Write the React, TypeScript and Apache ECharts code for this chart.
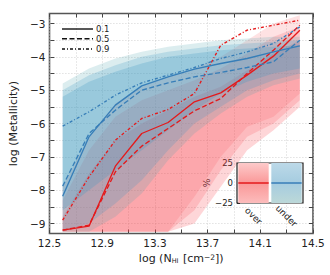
import React, { useEffect, useRef } from 'react';
import * as echarts from 'echarts';

const FONT = 'DejaVu Sans';

// log N_HI bin centres
const nhi = [12.6, 12.8, 13.0, 13.2, 13.4, 13.6, 13.8, 14.0, 14.2, 14.4];

// quantile lines (red = over, blue = under)
const redQ10 = [-9.2, -9.08, -7.28, -6.3, -5.97, -5.35, -5.08, -4.55, -3.98, -3.2];
const redQ50 = [-9.2, -9.05, -7.45, -6.68, -6.15, -5.62, -5.25, -4.5, -3.8, -3.05];
const redQ90 = [-8.9, -7.6, -6.5, -5.85, -5.58, -5.1, -3.65, -3.2, -3.05, -2.9];
const blueQ10 = [-8.18, -6.4, -5.45, -4.87, -4.6, -4.37, -4.2, -4.05, -3.85, -3.67];
const blueQ50 = [-7.88, -6.3, -5.6, -5.0, -4.78, -4.6, -4.47, -4.32, -4.15, -3.5];
const blueQ90 = [-6.08, -5.65, -5.15, -4.78, -4.55, -4.32, -4.05, -3.85, -3.6, -3.1];

// shaded distributions (nested envelopes)
const redOuterHi = [-7.9, -6.4, -5.4, -4.9, -4.6, -4.35, -4.0, -3.5, -3.0, -2.75];
const redOuterLo = [-9.25, -9.25, -9.25, -9.25, -9.25, -8.2, -7.0, -6.1, -5.8, -5.1];
const redMidHi = [-8.3, -6.8, -5.8, -5.3, -5.0, -4.7, -4.35, -3.9, -3.4, -3.1];
const redMidLo = [-9.25, -9.25, -9.25, -9.25, -9.25, -8.6, -7.4, -6.4, -6.0, -5.3];
const redInHi = [-8.8, -7.5, -6.5, -6.0, -5.6, -5.2, -4.9, -4.4, -3.9, -3.5];
const redInLo = [-9.25, -9.25, -9.25, -9.25, -9.25, -9.0, -7.9, -6.8, -6.2, -5.5];

const blueOuterHi = [-4.8, -4.35, -4.05, -3.85, -3.7, -3.6, -3.5, -3.45, -3.4, -3.4];
const blueOuterLo = [-9.25, -9.25, -8.8, -8.1, -7.1, -6.3, -5.7, -5.2, -4.85, -4.65];
const blueMidHi = [-5.0, -4.55, -4.25, -4.0, -3.85, -3.75, -3.65, -3.6, -3.55, -3.5];
const blueMidLo = [-9.25, -9.0, -8.4, -7.7, -6.8, -6.0, -5.5, -5.0, -4.7, -4.5];
const blueInHi = [-5.2, -4.75, -4.45, -4.2, -4.0, -3.9, -3.8, -3.75, -3.7, -3.65];
const blueInLo = [-8.6, -8.0, -7.4, -6.8, -6.2, -5.6, -5.1, -4.75, -4.5, -4.35];

const quantileLabels = ['0.1', '0.5', '0.9'];
const xTickLabels = ['12.5', '12.9', '13.3', '13.7', '14.1', '14.5'];
const yTickLabels = ['\u22129', '\u22128', '\u22127', '\u22126', '\u22125', '\u22124', '\u22123'];

// inset
const insetCategories = ['over', 'under'];
const insetHigh = [25, 25];
const insetLow = [-25, -25];
const insetMedian = [0, 0];

const RED = '#e41a1c';
const BLUE = '#377eb8';
const RED_FILL = 'rgb(250,60,70)';
const BLUE_FILL = 'rgb(60,150,195)';
const TEAL_FILL = 'rgb(80,165,175)';

const dashStyles: any[] = ['solid', [5, 2.5], [3, 2, 1, 2]];

function band(lo: number[], hi: number[], color: string, opacity: number, z: number) {
  return {
    type: 'custom', coordinateSystem: 'cartesian2d', xAxisIndex: 0, yAxisIndex: 0,
    silent: true, z, clip: true,
    data: [0],
    renderItem: (_p: any, api: any) => {
      const top = nhi.map((x, i) => api.coord([x, hi[i]]));
      const bot = nhi.map((x, i) => api.coord([x, lo[i]])).reverse();
      return {
        type: 'polygon',
        shape: { points: top.concat(bot) },
        style: { fill: color, opacity },
      };
    },
  };
}

function qline(name: string, vals: number[], color: string, k: number) {
  return {
    type: 'line', name, xAxisIndex: 0, yAxisIndex: 0,
    data: nhi.map((x, i) => [x, vals[i]]), symbol: 'none',
    lineStyle: { color, width: 1.35, type: dashStyles[k] }, z: 10,
  };
}

const tickStyle = { show: true, inside: true, length: 4, lineStyle: { color: '#444', width: 1 } };
const gridLine = { show: true, lineStyle: { color: '#c8c8c8', type: [1, 2], width: 0.8 } };

const option: any = {
  animation: false,
  textStyle: { fontFamily: FONT },
  grid: [
    { left: 49.5, top: 13.5, width: 263.5, height: 220, show: true, borderColor: '#555', borderWidth: 1.6, backgroundColor: 'transparent', containLabel: false },
    { left: 49.5, top: 23.5, width: 263.5, height: 200, containLabel: false },
    { left: 237, top: 163, width: 66, height: 40, show: true, borderColor: '#222', borderWidth: 1.2, backgroundColor: '#fff', containLabel: false, z: 20 },
  ],
  xAxis: [
    {
      gridIndex: 0, type: 'value', min: 12.5, max: 14.5, interval: 0.2,
      axisLine: { show: false }, axisTick: tickStyle, splitLine: gridLine,
      axisLabel: {
        fontSize: 10.5, color: '#222', margin: 4, fontFamily: FONT,
        formatter: (v: number) => {
          const k = Math.round((v - 12.5) / 0.2);
          return k % 2 === 0 ? xTickLabels[k / 2] : '';
        },
      },
      name: '{a|log (N}{s|HI}{a| [cm}{p|\u22122}{a|])}',
      nameLocation: 'middle', nameGap: 17,
      nameTextStyle: {
        rich: {
          a: { fontSize: 11, fontFamily: FONT, color: '#222' },
          s: { fontSize: 6.5, fontFamily: FONT, color: '#222', verticalAlign: 'bottom', padding: [0, 1, 0, 0] },
          p: { fontSize: 7.5, fontFamily: FONT, color: '#222', verticalAlign: 'top' },
        },
      },
    },
    {
      gridIndex: 0, type: 'value', position: 'top', min: 12.5, max: 14.5, interval: 0.2,
      axisLine: { show: false }, axisTick: tickStyle, axisLabel: { show: false }, splitLine: { show: false },
    },
    { gridIndex: 1, type: 'value', min: 0, max: 1, show: false },
    {
      gridIndex: 2, type: 'category', data: insetCategories,
      axisLine: { show: false }, axisTick: { show: false },
      axisLabel: { rotate: -45, align: 'center', verticalAlign: 'middle', margin: 13, fontSize: 9, color: '#222', fontFamily: FONT },
    },
    { gridIndex: 2, type: 'value', min: 0, max: 2, show: false },
  ],
  yAxis: [
    { gridIndex: 0, type: 'value', min: -9.3, max: -2.7, show: false },
    {
      gridIndex: 1, type: 'value', min: -9, max: -3, interval: 0.5,
      axisLine: { show: false }, axisTick: tickStyle, splitLine: gridLine,
      axisLabel: {
        fontSize: 10.5, color: '#222', margin: 5, fontFamily: FONT,
        formatter: (v: number) => {
          const r = Math.round(v);
          return Math.abs(v - r) < 1e-6 ? yTickLabels[r + 9] : '';
        },
      },
      name: 'log (Metallicity)', nameLocation: 'middle', nameGap: 28, nameRotate: 90,
      nameTextStyle: { fontSize: 11, color: '#222', fontFamily: FONT },
    },
    {
      gridIndex: 1, type: 'value', position: 'right', min: -9, max: -3, interval: 0.5,
      axisLine: { show: false }, axisTick: tickStyle, axisLabel: { show: false }, splitLine: { show: false },
    },
    {
      gridIndex: 2, type: 'value', min: -25, max: 25, interval: 25,
      axisLine: { show: false }, axisTick: { show: true, inside: true, length: 3, lineStyle: { color: '#333' } },
      splitLine: { show: false },
      axisLabel: {
        fontSize: 8.5, color: '#222', margin: 4, fontFamily: FONT,
        formatter: (v: number) => String(v).replace('-', '\u2212'),
      },
      name: '%', nameLocation: 'middle', nameGap: 25, nameRotate: 90,
      nameTextStyle: { fontSize: 9, color: '#222', fontFamily: FONT },
    },
  ],
  graphic: [
    { type: 'line', z: 50, shape: { x1: 62, y1: 29, x2: 93, y2: 29 }, style: { stroke: '#111', lineWidth: 1.4 } },
    { type: 'line', z: 50, shape: { x1: 62, y1: 38.7, x2: 93, y2: 38.7 }, style: { stroke: '#111', lineWidth: 1.4, lineDash: [5, 2.5] } },
    { type: 'line', z: 50, shape: { x1: 62, y1: 49, x2: 93, y2: 49 }, style: { stroke: '#111', lineWidth: 1.4, lineDash: [3, 2, 1, 2] } },
    ...quantileLabels.map((t, i) => ({
      type: 'text', z: 50, x: 96, y: [29, 38.7, 49][i],
      style: { text: t, fontSize: 8.5, fontFamily: FONT, fill: '#222', verticalAlign: 'middle', align: 'left' },
    })),
  ],
  series: [
    band(redOuterLo, redOuterHi, RED_FILL, 0.15, 2),
    band(redMidLo, redMidHi, RED_FILL, 0.18, 2),
    band(redInLo, redInHi, RED_FILL, 0.21, 2),
    band(blueOuterLo, blueOuterHi, TEAL_FILL, 0.2, 3),
    band(blueMidLo, blueMidHi, BLUE_FILL, 0.22, 3),
    band(blueInLo, blueInHi, BLUE_FILL, 0.25, 3),
    qline('over 0.1', redQ10, RED, 0),
    qline('over 0.5', redQ50, RED, 1),
    qline('over 0.9', redQ90, RED, 2),
    qline('under 0.1', blueQ10, BLUE, 0),
    qline('under 0.5', blueQ50, BLUE, 1),
    qline('under 0.9', blueQ90, BLUE, 2),
    { type: 'line', xAxisIndex: 2, yAxisIndex: 1, data: [], symbol: 'none' },
    {
      type: 'bar', xAxisIndex: 3, yAxisIndex: 3, stack: 'inset', barCategoryGap: '8%', z: 21,
      data: insetHigh.map((v, i) => ({
        value: v,
        itemStyle: {
          color: new echarts.graphic.LinearGradient(0, 0, 0, 1, i === 0
            ? [{ offset: 0, color: '#fdcaca' }, { offset: 1, color: '#fa9898' }]
            : [{ offset: 0, color: '#bcd9e8' }, { offset: 1, color: '#a5cce0' }]),
        },
      })),
    },
    {
      type: 'bar', xAxisIndex: 3, yAxisIndex: 3, stack: 'inset', barCategoryGap: '8%', z: 21,
      data: insetLow.map((v, i) => ({
        value: v,
        itemStyle: {
          color: new echarts.graphic.LinearGradient(0, 0, 0, 1, i === 0
            ? [{ offset: 0, color: '#fa9898' }, { offset: 1, color: '#fcbcbc' }]
            : [{ offset: 0, color: '#a5cce0' }, { offset: 1, color: '#bcd8d8' }]),
        },
      })),
    },
    ...insetMedian.map((m, i) => ({
      type: 'line', xAxisIndex: 4, yAxisIndex: 3, symbol: 'none', z: 22,
      data: [[i + 0.04, m], [i + 0.96, m]],
      lineStyle: { color: i === 0 ? RED : BLUE, width: 1.5 },
    })),
  ],
};

export default function App() {
  const ref = useRef<HTMLDivElement>(null);
  useEffect(() => {
    document.body.style.margin = '0';
    const chart = echarts.init(ref.current!, null, { renderer: 'svg' });
    chart.setOption(option);
    return () => chart.dispose();
  }, []);
  return <div ref={ref} style={{ width: 330, height: 275 }} />;
}
